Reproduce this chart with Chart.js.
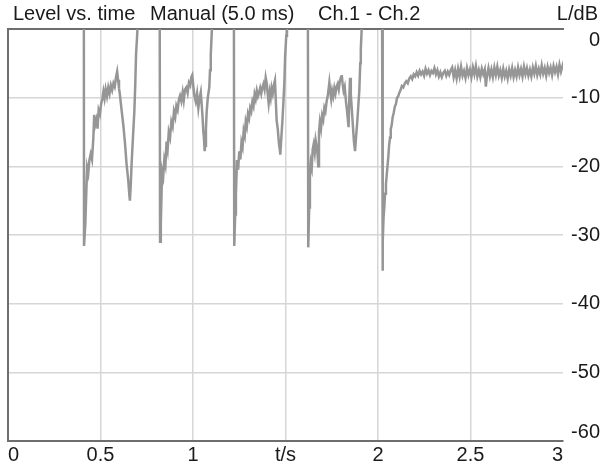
<!DOCTYPE html>
<html lang="en">
<head>
<meta charset="UTF-8">
<script src="https://cdn.jsdelivr.net/npm/chart.js@4.4.1/dist/chart.umd.min.js"></script>
<title>Level vs. time</title>
<style>
  html, body { margin: 0; padding: 0; background: #fff; }
</style>
</head>
<body>
<canvas id="levelChart" width="605" height="470"></canvas>
<script>
// time in s, level difference Ch.1 - Ch.2 in dB (values above 0 run off the top of the plot)
var times = [
  0.000,0.410,0.411,0.418,0.423,0.428,0.434,0.440,0.447,0.454,0.461,0.466,0.471,0.478,0.484,0.490,0.497,0.503,0.510,0.516,0.522,0.528,0.535,0.542,0.549,0.556,0.563,0.570,0.577,0.584,0.590,0.595,0.600,0.605,0.614,0.623,0.632,0.641,0.650,0.656,0.659,0.664,0.668,0.676,0.683,0.688,0.692,0.701,0.705,0.820,
  0.822,0.826,0.830,0.833,0.839,0.845,0.851,0.857,0.863,0.869,0.876,0.883,0.890,0.897,0.904,0.910,0.917,0.924,0.930,0.937,0.944,0.950,0.957,0.964,0.971,0.978,0.985,0.991,0.996,1.002,1.008,1.015,1.022,1.029,1.036,1.042,1.047,1.052,1.056,1.059,1.063,1.066,1.070,1.074,1.080,1.088,1.092,1.096,1.103,1.106,1.221,
  1.223,1.228,1.232,1.238,1.244,1.250,1.256,1.262,1.268,1.274,1.280,1.285,1.291,1.297,1.303,1.309,1.315,1.321,1.327,1.333,1.339,1.345,1.351,1.357,1.363,1.369,1.375,1.381,1.387,1.393,1.399,1.404,1.409,1.415,1.420,1.425,1.431,1.437,1.443,1.447,1.452,1.458,1.465,1.469,1.472,1.477,1.483,1.489,1.494,1.498,1.504,1.508,1.621,
  1.623,1.628,1.632,1.637,1.642,1.647,1.652,1.658,1.663,1.668,1.674,1.677,1.681,1.686,1.692,1.698,1.704,1.710,1.716,1.722,1.728,1.734,1.737,1.742,1.747,1.752,1.758,1.764,1.770,1.776,1.782,1.788,1.794,1.800,1.804,1.809,1.814,1.820,1.827,1.833,1.838,1.841,1.845,1.849,1.853,1.858,1.864,1.870,1.876,1.882,1.888,1.894,1.899,1.904,1.907,1.911,1.914,2.022,
  2.024,2.027,2.030,2.034,2.038,2.043,2.048,2.052,2.056,2.060,2.065,2.069,2.074,2.079,2.085,2.091,2.097,2.103,2.109,2.115,2.122,2.129,2.137,2.145,2.153,2.161,2.169,2.177,2.185,2.193,2.201,2.209,2.217,2.225,2.233,2.241,2.249,2.257,2.265,2.273,2.281,2.289,2.297,2.305,2.313,2.321,2.329,2.337,2.345,2.353,2.361,2.369,2.377,2.385,2.393,
  2.401,2.409,2.417,2.425,2.433,2.441,2.449,2.457,2.465,2.473,2.481,2.489,2.497,2.505,2.513,2.521,2.529,2.537,2.545,2.553,2.561,2.569,2.577,2.583,2.589,2.597,2.605,2.613,2.621,2.629,2.637,2.645,2.653,2.661,2.669,2.677,2.685,2.693,2.701,2.709,2.717,2.725,2.733,2.741,2.749,2.757,2.765,2.773,2.781,2.789,2.797,2.805,2.813,2.821,2.829,2.837,2.845,2.853,2.861,2.869,2.877,2.885,2.893,2.901,2.909,2.917,2.925,2.933,2.941,2.949,2.957,2.965,2.973,2.981,2.989,2.997,3.000
];
var levels = [
  3,3,-31.6,-28.4,-24.0,-20.2,-21.0,-19.1,-18.2,-19.0,-16.0,-12.5,-14.0,-13.2,-14.5,-11.8,-12.4,-11.0,-10.2,-9.1,-10.1,-8.8,-9.8,-8.5,-9.4,-8.2,-8.9,-7.9,-8.4,-7.0,-6.2,-7.4,-8.6,-9.6,-11.8,-13.9,-16.5,-19.7,-22.0,-24.2,-25.0,-22.5,-19.7,-15.5,-12.0,-8.0,-3.8,0.5,3,3,
  -31.0,-28.4,-24.0,-20.7,-21.5,-19.0,-19.8,-16.4,-17.5,-15.0,-15.8,-13.5,-14.2,-12.0,-12.8,-11.2,-11.8,-10.2,-9.7,-10.5,-9.2,-10.4,-8.8,-8.5,-9.3,-7.8,-8.2,-7.0,-6.7,-8.4,-9.8,-10.6,-9.4,-11.5,-10.0,-9.2,-11.0,-13.0,-15.0,-15.8,-17.8,-17.0,-14.5,-12.0,-10.0,-8.5,-6.0,-3.8,0.5,3,3,
  -31.6,-27.0,-24.0,-19.1,-20.5,-17.8,-19.0,-16.5,-17.2,-14.8,-15.5,-13.5,-14.2,-12.4,-13.0,-11.5,-12.0,-10.6,-11.2,-9.5,-10.2,-9.0,-9.8,-9.3,-8.6,-9.4,-8.5,-8.0,-8.8,-7.1,-8.0,-9.5,-10.8,-9.2,-10.0,-8.6,-9.4,-8.2,-7.5,-10.0,-13.3,-14.5,-16.8,-17.5,-18.3,-16.0,-13.5,-10.5,-7.7,-4.0,-1.0,3,3,
  -31.8,-26.0,-21.6,-19.5,-20.2,-17.5,-16.8,-18.0,-16.2,-17.0,-18.5,-20.0,-15.0,-13.5,-14.5,-12.6,-13.2,-11.5,-12.0,-10.6,-9.8,-8.5,-7.8,-9.2,-10.2,-9.0,-9.8,-8.6,-9.4,-8.4,-8.0,-8.8,-7.6,-7.0,-6.7,-8.0,-9.0,-8.4,-10.6,-12.0,-13.5,-14.3,-10.0,-7.1,-9.5,-11.5,-14.0,-16.4,-17.8,-15.5,-13.5,-11.0,-9.0,-5.0,-3.0,-0.5,3,3,
  -35.2,-31.0,-27.5,-26.0,-24.0,-22.6,-21.0,-19.8,-18.5,-17.0,-15.8,-14.6,-14.0,-12.9,-12.2,-11.3,-10.9,-10.0,-9.8,-9.3,-8.9,-8.3,-8.5,-7.9,-7.6,-7.9,-7.2,-6.9,-7.3,-6.6,-6.9,-6.3,-6.8,-6.1,-6.6,-6.2,-6.8,-5.8,-6.5,-6.0,-6.7,-6.1,-6.4,-5.7,-6.6,-6.0,-6.9,-6.3,-7.0,-6.4,-6.1,-6.8,-6.2,-6.7,-6.0,
  -5.6,-7.0,-6.0,-7.2,-5.8,-6.9,-5.5,-6.8,-6.1,-7.1,-5.7,-6.7,-5.9,-7.0,-5.6,-6.6,-5.4,-6.9,-6.0,-7.0,-5.8,-6.6,-5.9,-8.4,-6.8,-5.7,-6.9,-5.9,-7.0,-5.6,-6.7,-5.5,-6.8,-6.0,-7.1,-5.8,-6.9,-6.1,-7.2,-5.9,-6.8,-5.7,-7.0,-6.0,-6.9,-5.6,-6.7,-5.8,-6.9,-5.5,-6.6,-5.7,-6.8,-5.9,-6.9,-5.6,-6.5,-5.4,-6.7,-5.8,-6.6,-5.3,-6.5,-5.7,-6.8,-5.5,-6.4,-5.6,-6.7,-5.4,-6.3,-5.5,-6.6,-5.2,-6.2,-5.4,-5.9
];

var xTicks = [0, 0.5, 1, 1.5, 2, 2.5, 3];
var xTickLabels = ['0', '0.5', '1', 't/s', '2', '2.5', '3'];
var yTicks = [0, -10, -20, -30, -40, -50, -60];
var yTickLabels = ['0', '-10', '-20', '-30', '-40', '-50', '-60'];
var titleParts = ['Level vs. time', 'Manual (5.0 ms)', 'Ch.1 - Ch.2'];
var yUnit = 'L/dB';

var FONT = '"Liberation Sans", Arial, sans-serif';
var TEXT = '#1a1a1a';
var GRID = '#d6d6d6';
var FRAME = '#6e6e6e';

var points = [];
for (var i = 0; i < Math.min(times.length, levels.length); i++) {
  points.push({ x: times[i], y: levels[i] });
}

// title, unit and the right hand level labels
var labelPlugin = {
  id: 'levelLabels',
  afterDraw: function(chart) {
    var ctx = chart.ctx;
    var yScale = chart.scales.y;
    var titleX = [13, 150, 318];
    ctx.save();
    ctx.font = '20px ' + FONT;
    ctx.fillStyle = TEXT;
    ctx.textBaseline = 'middle';
    ctx.textAlign = 'left';
    titleParts.forEach(function(t, k) { ctx.fillText(t, titleX[k], 14); });
    ctx.textAlign = 'right';
    ctx.fillText(yUnit, 598, 14);
    yTicks.forEach(function(v, k) {
      var py = yScale.getPixelForValue(v);
      if (k === 0) py += 11;
      if (k === yTicks.length - 1) py -= 9;
      ctx.fillText(yTickLabels[k], 600, py);
    });
    ctx.restore();
  }
};

function innerGrid(ends) {
  return function(c) {
    if (!c.tick) return GRID;
    return ends.indexOf(c.tick.value) >= 0 ? 'rgba(0,0,0,0)' : GRID;
  };
}

new Chart(document.getElementById('levelChart'), {
  type: 'line',
  data: {
    datasets: [{
      data: points,
      borderColor: '#969696',
      borderWidth: 2.5,
      pointRadius: 0,
      tension: 0,
      fill: false
    }]
  },
  options: {
    responsive: false,
    animation: false,
    events: [],
    layout: { padding: { left: 8, right: 42, top: 29, bottom: 1 } },
    plugins: { legend: { display: false }, tooltip: { enabled: false } },
    scales: {
      x: {
        type: 'linear',
        position: 'bottom',
        min: 0,
        max: 3,
        afterBuildTicks: function(s) { s.ticks = xTicks.map(function(v) { return { value: v }; }); },
        grid: { color: innerGrid([0, 3]), lineWidth: 1.5, drawTicks: false },
        border: { color: FRAME, width: 2 },
        ticks: {
          align: 'inner',
          padding: 2,
          autoSkip: false,
          maxRotation: 0,
          color: TEXT,
          font: { family: FONT, size: 20 },
          callback: function(v) {
            var k = xTicks.indexOf(v);
            return k >= 0 ? xTickLabels[k] : '';
          }
        }
      },
      xTop: {
        type: 'linear',
        axis: 'x',
        position: 'top',
        min: 0,
        max: 3,
        grid: { display: false, drawTicks: false },
        border: { color: FRAME, width: 2 },
        ticks: { display: false }
      },
      y: {
        type: 'linear',
        position: 'left',
        min: -60,
        max: 0,
        afterBuildTicks: function(s) { s.ticks = yTicks.map(function(v) { return { value: v }; }); },
        grid: { color: innerGrid([0, -60]), lineWidth: 1.5, drawTicks: false },
        border: { color: FRAME, width: 2 },
        ticks: { display: false }
      }
    }
  },
  plugins: [labelPlugin]
});
</script>
</body>
</html>
